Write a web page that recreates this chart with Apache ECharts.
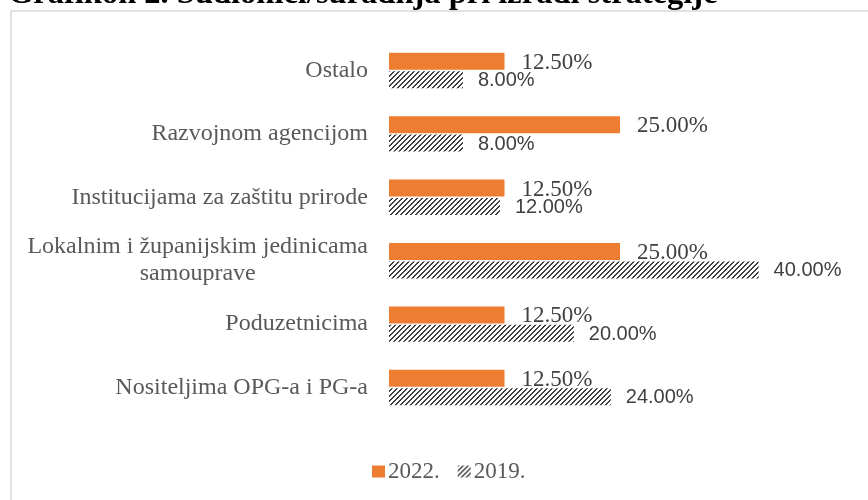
<!DOCTYPE html>
<html>
<head>
<meta charset="utf-8">
<script src="https://cdn.jsdelivr.net/npm/echarts@6/dist/echarts.min.js"></script>
<style>
  html, body { margin: 0; padding: 0; background: #fff; }
  #chart { width: 868px; height: 500px; }
</style>
</head>
<body>
<div id="chart"></div>
<script>
// Categories, top to bottom
const categories = [
  'Ostalo',
  'Razvojnom agencijom',
  'Institucijama za zaštitu prirode',
  'Lokalnim i županijskim jedinicama\nsamouprave',
  'Poduzetnicima',
  'Nositeljima OPG-a i PG-a'
];
const seriesNames = ['2022.', '2019.'];
const values2022 = [12.5, 25, 12.5, 25, 12.5, 12.5];
const values2019 = [8, 8, 12, 40, 20, 24];
const titleText = 'Grafikon 2. Sudionici/suradnja pri izradi strategije';

// Diagonal hatch fill for the 2019 bars (upward stripes, 5px period)
function hatchPattern() {
  const n = 5;
  const c = document.createElement('canvas');
  c.width = n; c.height = n;
  const g = c.getContext('2d');
  g.fillStyle = '#ffffff';
  g.fillRect(0, 0, n, n);
  g.fillStyle = '#404040';
  for (let y = 0; y < n; y++) {
    const x = (n - 1 - y) % n;
    g.fillRect(x, y, 1, 1);
    g.fillRect((x + 1) % n, y, 1, 1);
  }
  return c;
}

const serif = '"Liberation Serif", "Times New Roman", serif';
const sans = '"Liberation Sans", Arial, sans-serif';
const pct = p => p.value.toFixed(2) + '%';

const chart = echarts.init(document.getElementById('chart'), null, { renderer: 'canvas' });
chart.setOption({
  animation: false,
  backgroundColor: '#ffffff',
  title: {
    text: titleText,
    left: 8,
    top: -22,
    padding: 0,
    textStyle: { fontFamily: serif, fontWeight: 'bold', fontSize: 32.5, color: '#000000' }
  },
  graphic: [{
    type: 'rect',
    shape: { x: 11, y: 11, width: 900, height: 520 },
    style: { fill: null, stroke: '#d9d9d9', lineWidth: 1.5 },
    silent: true,
    z: -1
  }],
  legend: {
    left: 367,
    top: 455,
    itemWidth: 13,
    itemHeight: 12,
    itemGap: 18,
    icon: 'rect',
    textStyle: { fontFamily: serif, fontSize: 23, color: '#595959', padding: [0, 0, 0, -2] },
    data: seriesNames
  },
  grid: { left: 389, right: 17, top: 38.8, bottom: 80.8, containLabel: false },
  xAxis: {
    type: 'value',
    min: 0,
    max: 50,
    show: false
  },
  yAxis: {
    type: 'category',
    data: categories,
    inverse: true,
    axisLine: { show: false },
    axisTick: { show: false },
    axisLabel: {
      margin: 21,
      fontFamily: serif,
      fontSize: 24,
      color: '#595959',
      lineHeight: 27,
      formatter: v => v.split('\n').map(s => '{c|' + s + '}').join('\n'),
      rich: { c: { align: 'center', fontFamily: serif, fontSize: 24, color: '#595959', lineHeight: 27 } }
    }
  },
  series: [
    {
      name: seriesNames[0],
      type: 'bar',
      data: values2022,
      barWidth: 17,
      barGap: '8%',
      itemStyle: { color: '#ED7D31' },
      label: {
        show: true,
        position: 'right',
        distance: 17,
        offset: [0, 1.5],
        formatter: pct,
        fontFamily: serif,
        fontSize: 23,
        color: '#404040'
      },
      z: 3
    },
    {
      name: seriesNames[1],
      type: 'bar',
      data: values2019,
      barWidth: 17,
      itemStyle: { color: { image: hatchPattern(), repeat: 'repeat' } },
      label: {
        show: true,
        position: 'right',
        distance: 15,
        offset: [0, 1],
        formatter: pct,
        fontFamily: sans,
        fontSize: 20,
        color: '#404040'
      },
      z: 2
    }
  ]
});
</script>
</body>
</html>
